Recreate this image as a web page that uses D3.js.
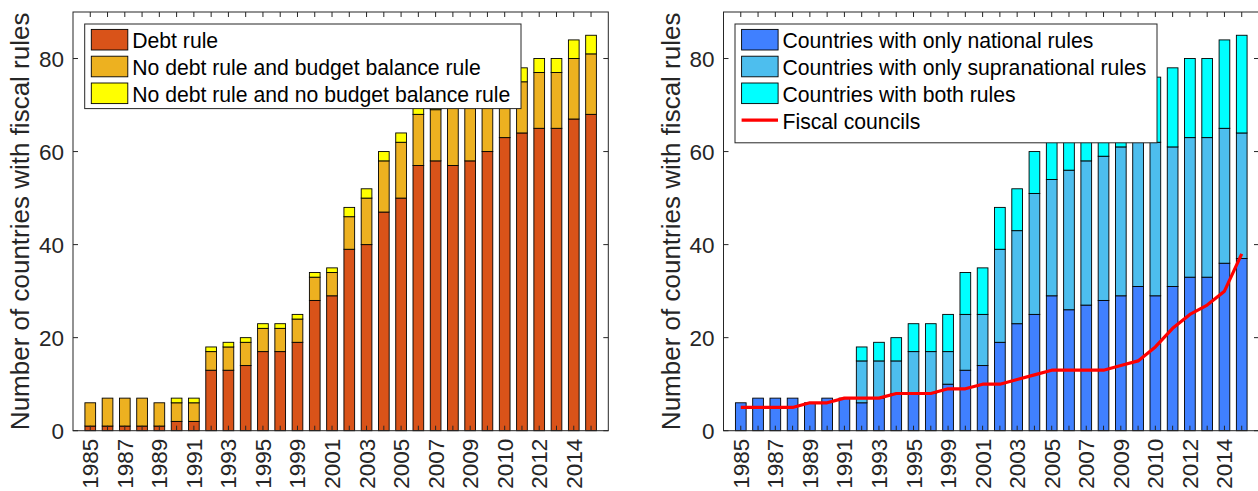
<!DOCTYPE html>
<html>
<head>
<meta charset="utf-8">
<script src="https://cdn.jsdelivr.net/npm/d3@7.9.0/dist/d3.min.js"></script>
<style>
  body { margin: 0; background: #fff; }
  text { font-family: "Liberation Sans", Arial, sans-serif; }
</style>
</head>
<body>
<svg id="chart" width="1258" height="491"></svg>
<script>
// bar positions 1..30, labels only on every other bar (as in the original figure)
const barIndex = d3.range(1, 31);
const tickLabels = ['1985', '1987', '1989', '1991', '1993', '1995', '1999', '2001',
  '2003', '2005', '2007', '2009', '2010', '2012', '2014'];
const yTicks = [0, 20, 40, 60, 80];

// left panel
const debtRule = [1, 1, 1, 1, 1, 2, 2, 13, 13, 14, 17, 17, 19, 28, 29, 39, 40, 47, 50, 57,
  58, 57, 58, 60, 63, 64, 65, 65, 67, 68];
const noDebtBudgetBalance = [5, 6, 6, 6, 5, 4, 4, 4, 5, 5, 5, 5, 5, 5, 5, 7, 10, 11, 12, 11,
  11, 13, 14, 13, 10, 11, 12, 12, 13, 13];
const noDebtNoBudgetBalance = [0, 0, 0, 0, 0, 1, 1, 1, 1, 1, 1, 1, 1, 1, 1, 2, 2, 2, 2, 2,
  2, 2, 2, 2, 3, 3, 3, 3, 4, 4];

// right panel
const onlyNational = [6, 7, 7, 7, 6, 7, 7, 6, 7, 8, 8, 8, 10, 13, 14, 19, 23, 25, 29, 26,
  27, 28, 29, 31, 29, 31, 33, 33, 36, 37];
const onlySupranational = [0, 0, 0, 0, 0, 0, 0, 9, 8, 7, 9, 9, 7, 12, 11, 20, 20, 26, 25, 30,
  31, 31, 32, 32, 33, 30, 30, 30, 29, 27];
const bothRules = [0, 0, 0, 0, 0, 0, 0, 3, 4, 5, 6, 6, 8, 9, 10, 9, 9, 9, 10, 14,
  13, 13, 13, 12, 14, 17, 17, 17, 19, 21];
const fiscalCouncils = [5, 5, 5, 5, 6, 6, 7, 7, 7, 8, 8, 8, 9, 9, 10, 10, 11, 12, 13, 13,
  13, 13, 14, 15, 18, 22, 25, 27, 30, 38];

const svg = d3.select('#chart');
const axisColor = '#262626';

function renderPanel(opts) {
  const { left, right, series, colors, names, line } = opts;
  const top = 12, bottom = 430.7;
  const g = svg.append('g');

  const x = d3.scaleLinear().domain([0, 31]).range([left, right]);
  const y = d3.scaleLinear().domain([0, 90]).range([bottom, top]);
  const bw = x(0.62) - x(0);

  const rows = barIndex.map((b, i) => {
    const r = { b };
    series.forEach((s, k) => { r['s' + k] = s[i]; });
    return r;
  });
  const stacked = d3.stack().keys(series.map((_, k) => 's' + k))(rows);

  g.selectAll('g.layer')
    .data(stacked)
    .join('g')
    .attr('class', 'layer')
    .attr('fill', (d, k) => colors[k])
    .selectAll('rect')
    .data(d => d)
    .join('rect')
    .attr('x', d => x(d.data.b) - bw / 2)
    .attr('width', bw)
    .attr('y', d => y(d[1]))
    .attr('height', d => y(d[0]) - y(d[1]))
    .attr('stroke', '#000')
    .attr('stroke-width', 0.9);

  if (line) {
    g.append('path')
      .datum(line.values)
      .attr('fill', 'none')
      .attr('stroke', line.color)
      .attr('stroke-width', 3.2)
      .attr('stroke-linejoin', 'round')
      .attr('d', d3.line().x((d, i) => x(barIndex[i])).y(d => y(d)));
  }

  // frame
  g.append('rect')
    .attr('x', left).attr('y', top)
    .attr('width', right - left).attr('height', bottom - top)
    .attr('fill', 'none').attr('stroke', axisColor).attr('stroke-width', 1);

  // x ticks (inward, bottom and top)
  barIndex.forEach(b => {
    g.append('line').attr('x1', x(b)).attr('x2', x(b)).attr('y1', top).attr('y2', top + 5)
      .attr('stroke', axisColor);
    g.append('line').attr('x1', x(b)).attr('x2', x(b)).attr('y1', bottom).attr('y2', bottom - 5)
      .attr('stroke', axisColor);
  });
  tickLabels.forEach((t, i) => {
    const b = barIndex[i * 2];
    g.append('text')
      .attr('transform', `translate(${x(b) + 8},${bottom + 8}) rotate(-90)`)
      .attr('text-anchor', 'end')
      .attr('font-size', 22.5)
      .attr('fill', axisColor)
      .text(t);
  });

  // y ticks
  yTicks.forEach(t => {
    g.append('line').attr('x1', left).attr('x2', left + 5).attr('y1', y(t)).attr('y2', y(t))
      .attr('stroke', axisColor);
    g.append('line').attr('x1', right).attr('x2', right - 5).attr('y1', y(t)).attr('y2', y(t))
      .attr('stroke', axisColor);
    g.append('text')
      .attr('x', left - 9).attr('y', y(t)).attr('dy', '0.36em')
      .attr('text-anchor', 'end')
      .attr('font-size', 22.5)
      .attr('fill', axisColor)
      .text(t);
  });

  g.append('text')
    .attr('transform', `translate(${left - 44},${(top + bottom) / 2}) rotate(-90)`)
    .attr('text-anchor', 'middle')
    .attr('font-size', 26)
    .attr('fill', axisColor)
    .text('Number of countries with fiscal rules');

  // legend
  const lg = g.append('g');
  const lx = left + opts.legend.dx;
  const nRows = names.length + (line ? 1 : 0);
  lg.append('rect')
    .attr('x', lx).attr('y', 24)
    .attr('width', opts.legend.w).attr('height', 12 + nRows * 26.7 - (line ? 0 : 7.5))
    .attr('fill', '#fff').attr('stroke', axisColor).attr('stroke-width', 1);
  names.forEach((n, k) => {
    const cy = 39.7 + k * 26.8;
    lg.append('rect')
      .attr('x', lx + 6.6).attr('y', cy - 10.3)
      .attr('width', 36.5).attr('height', 20.6)
      .attr('fill', colors[k]).attr('stroke', '#000').attr('stroke-width', 0.9);
    lg.append('text')
      .attr('x', lx + 47.5).attr('y', cy + 8.4)
      .attr('font-size', 21.2).attr('fill', '#000')
      .text(n);
  });
  if (line) {
    const cy = 39.7 + names.length * 26.8;
    lg.append('line')
      .attr('x1', lx + 6.6).attr('x2', lx + 43)
      .attr('y1', cy).attr('y2', cy)
      .attr('stroke', line.color).attr('stroke-width', 3.2);
    lg.append('text')
      .attr('x', lx + 47.5).attr('y', cy + 8.4)
      .attr('font-size', 21.2).attr('fill', '#000')
      .text(line.name);
  }
}

renderPanel({
  left: 73, right: 608.3,
  series: [debtRule, noDebtBudgetBalance, noDebtNoBudgetBalance],
  colors: ['#D95319', '#EDB120', '#FFFF00'],
  names: ['Debt rule', 'No debt rule and budget balance rule', 'No debt rule and no budget balance rule'],
  legend: { dx: 11.7, w: 436.3 }
});

renderPanel({
  left: 723.5, right: 1259,
  series: [onlyNational, onlySupranational, bothRules],
  colors: ['#4080FF', '#4DBEEE', '#00FFFF'],
  names: ['Countries with only national rules', 'Countries with only supranational rules', 'Countries with both rules'],
  line: { values: fiscalCouncils, color: '#FF0000', name: 'Fiscal councils' },
  legend: { dx: 11.5, w: 422 }
});
</script>
</body>
</html>
